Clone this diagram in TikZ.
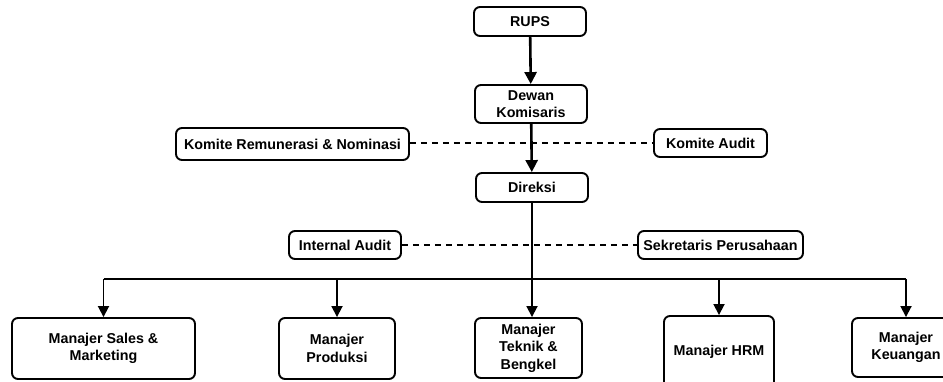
\documentclass[tikz,border=0pt]{standalone}
\usepackage{fontspec}
\setmainfont{Liberation Sans}
\usetikzlibrary{arrows.meta}
\tikzset{
 box/.style={draw, line width=1.9pt, rounded corners=6pt, align=center, inner sep=0pt, font=\fontsize{14.3}{17.5}\selectfont\bfseries},
 conn/.style={line width=1.8pt, -{Triangle[length=11pt,width=11pt]}},
 mainconn/.style={line width=2.6pt, -{Triangle[length=12pt,width=12pt]}},
 dashline/.style={line width=1.8pt, dash pattern=on 6pt off 5pt},
 plainline/.style={line width=1.8pt},
}
\begin{document}
\begin{tikzpicture}[x=1pt,y=-1pt]
\useasboundingbox (0,0) rectangle (943,381);
\clip (0,0) rectangle (943,381);
\node[box, minimum width=112pt, minimum height=29pt] (rups) at (530,21.5) {RUPS};
\node[box, minimum width=112pt, minimum height=38pt] (dewan) at (531,104) {Dewan\\Komisaris};
\node[box, minimum width=112pt, minimum height=29pt] (direksi) at (532,187.5) {Direksi};
\node[box, minimum width=233pt, minimum height=32pt] (krem) at (292.5,144) {Komite Remunerasi \& Nominasi};
\node[box, minimum width=113pt, minimum height=28pt] (kaudit) at (710.5,143) {Komite Audit};
\node[box, minimum width=112pt, minimum height=28pt] (iaudit) at (345,245) {Internal Audit};
\node[box, minimum width=165pt, minimum height=28pt] (sekre) at (720.5,245) {Sekretaris Perusahaan};
\node[box, minimum width=183pt, minimum height=61pt] (sales) at (103.5,348.5) {Manajer Sales \&\\Marketing};
\node[box, minimum width=116pt, minimum height=61pt] (prod) at (337,348.5) {Manajer\\Produksi};
\node[box, minimum width=107pt, minimum height=60pt] (teknik) at (528.5,348) {Manajer\\Teknik \&\\Bengkel};
\node[box, minimum width=110pt, minimum height=72pt] (hrm) at (719,352) {Manajer HRM};
\node[box, minimum width=108pt, minimum height=59pt] (keu) at (906,347.5) {Manajer\\Keuangan};
\coordinate (bus) at (532,279);
\draw[mainconn] (rups) -- (dewan);
\draw[mainconn] (dewan) -- (direksi);
\draw[dashline] (krem.east |- kaudit.west) -- (kaudit.west);
\draw[dashline] (iaudit.east) -- (sekre.west);
\draw[conn] (direksi.south) -- (direksi.south |- teknik.north);
\draw[plainline] (sales.north |- bus) -- (keu.north |- bus);
\draw[conn] (sales.north |- bus) -- (sales.north);
\draw[conn] (prod.north |- bus) -- (prod.north);
\draw[conn] (hrm.north |- bus) -- (hrm.north);
\draw[conn] (keu.north |- bus) -- (keu.north);
\end{tikzpicture}
\end{document}
